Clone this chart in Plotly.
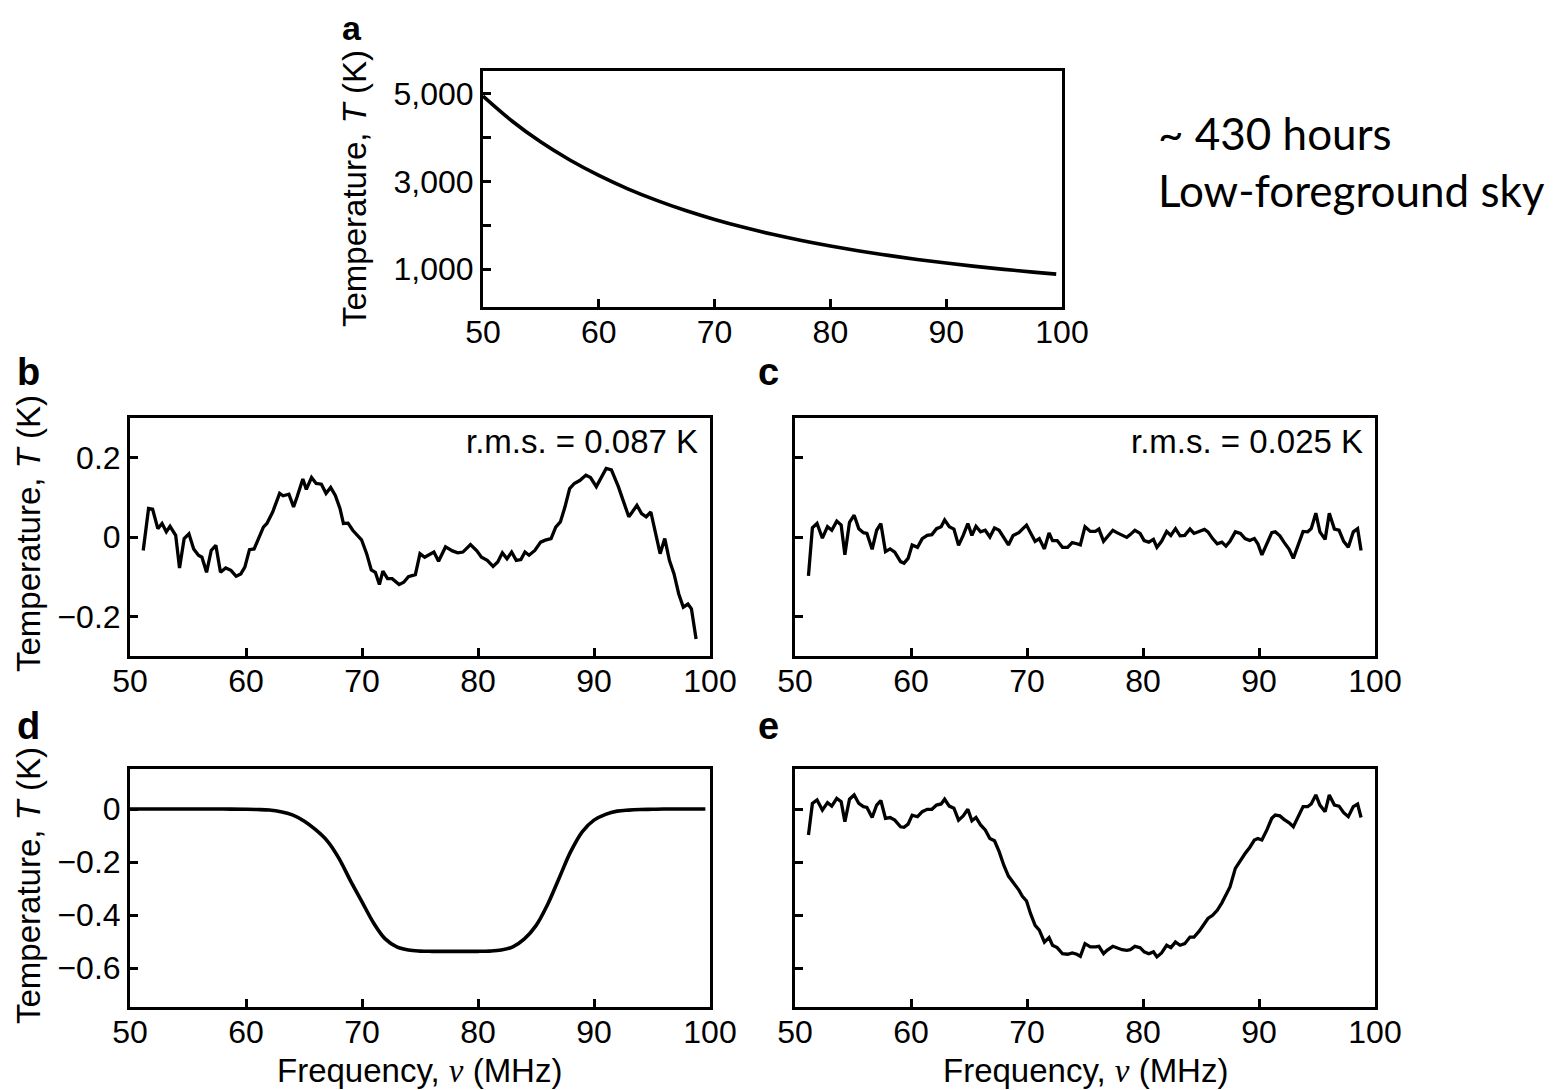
import plotly.graph_objects as go

# ---------------- data ----------------
# Panel a: sky temperature
a_freq = [50, 52.5, 55, 57.5, 60, 62.5, 65, 67.5, 70, 72.5, 75, 77.5, 80, 82.5, 85, 87.5, 90, 92.5, 95, 97.5, 99.5]
a_temp = [4950, 4382, 3900, 3490, 3138, 2833, 2569, 2337, 2134, 1955, 1796, 1655, 1529, 1416, 1314, 1222, 1139, 1063, 995, 932, 886]
a_yticks = [1000, 2000, 3000, 4000, 5000]
a_yticktext = ["1,000", "", "3,000", "", "5,000"]

# Panel b: residuals (r.m.s. = 0.087 K)
b_freq = [51.14, 51.6, 51.95, 52.4, 52.76, 53.13, 53.45, 53.94, 54.27, 54.67,
          55.08, 55.49, 55.9, 56.2, 56.6, 57.0, 57.4, 57.8, 58.25, 58.7,
          59.15, 59.55, 59.9, 60.3, 60.7, 61.1, 61.5, 61.8, 62.3, 62.9,
          63.2, 63.7, 64.1, 64.4, 64.9, 65.2, 65.65, 66.05, 66.5, 66.9,
          67.3, 67.7, 68.1, 68.4, 68.8, 69.2, 69.6, 69.96, 70.4, 70.8,
          71.15, 71.5, 71.8, 72.2, 72.6, 73.2, 73.6, 74.0, 74.6, 75.0,
          75.4, 75.9, 76.2, 76.6, 77.2, 77.8, 78.25, 78.7, 79.35, 79.9,
          80.3, 80.8, 81.3, 81.7, 82.1, 82.5, 82.9, 83.3, 83.7, 84.05,
          84.4, 84.9, 85.4, 85.8, 86.3, 86.7, 87.1, 87.5, 87.9, 88.3,
          88.8, 89.3, 89.7, 90.2, 90.65, 91.05, 91.5, 92.1, 92.5, 93.0,
          93.3, 93.7, 94.1, 94.5, 94.9, 95.3, 95.7, 96.1, 96.5, 96.9,
          97.3, 97.7, 98.1, 98.4, 98.8]
b_temp = [-0.034, 0.072, 0.07, 0.021, 0.034, 0.013, 0.027, 0.004, -0.078, -0.004,
          0.008, -0.03, -0.046, -0.051, -0.089, -0.034, -0.021, -0.089, -0.078, -0.084,
          -0.099, -0.093, -0.076, -0.032, -0.03, 0.0, 0.025, 0.034, 0.063, 0.11,
          0.104, 0.108, 0.076, 0.101, 0.146, 0.12, 0.15, 0.135, 0.133, 0.11,
          0.125, 0.105, 0.072, 0.034, 0.035, 0.017, 0.004, -0.007, -0.042, -0.083,
          -0.089, -0.12, -0.086, -0.105, -0.105, -0.12, -0.114, -0.1, -0.095, -0.042,
          -0.051, -0.044, -0.038, -0.061, -0.025, -0.035, -0.04, -0.038, -0.019, -0.035,
          -0.051, -0.059, -0.074, -0.063, -0.04, -0.055, -0.038, -0.059, -0.057, -0.038,
          -0.046, -0.034, -0.013, -0.008, -0.004, 0.025, 0.038, 0.076, 0.122, 0.135,
          0.143, 0.156, 0.15, 0.127, 0.15, 0.173, 0.169, 0.127, 0.093, 0.051,
          0.063, 0.08, 0.059, 0.051, 0.063, 0.008, -0.042, -0.004, -0.059, -0.093,
          -0.143, -0.177, -0.169, -0.181, -0.257]

# Panels c and e share the frequency sampling
ce_freq = [51.16, 51.5, 51.9, 52.36, 52.8, 53.17, 53.6, 53.98, 54.3, 54.7,
           55.1, 55.5, 55.9, 56.2, 56.65, 57.04, 57.4, 57.8, 58.2, 58.6,
           59.1, 59.4, 59.75, 60.1, 60.56, 60.97, 61.4, 61.8, 62.2, 62.6,
           62.9, 63.3, 63.7, 64.1, 64.5, 64.9, 65.25, 65.6, 66.0, 66.4,
           66.8, 67.2, 67.6, 68.0, 68.4, 68.8, 69.3, 69.6, 69.96, 70.3,
           70.7, 71.06, 71.5, 71.9, 72.2, 72.6, 73.06, 73.5, 73.9, 74.3,
           74.6, 75.0, 75.46, 75.9, 76.2, 76.6, 76.9, 77.4, 77.75, 78.2,
           78.6, 78.9, 79.3, 79.75, 80.1, 80.5, 80.9, 81.2, 81.6, 82.04,
           82.4, 82.8, 83.2, 83.6, 84.05, 84.4, 84.86, 85.3, 85.6, 86.0,
           86.4, 86.8, 87.15, 87.5, 87.96, 88.4, 88.8, 89.2, 89.6, 89.9,
           90.25, 90.7, 91.1, 91.4, 91.8, 92.15, 92.6, 92.96, 93.4, 93.8,
           94.2, 94.5, 94.9, 95.25, 95.7, 96.06, 96.5, 96.9, 97.3, 97.7,
           98.13, 98.5, 98.8]
# Panel c: residuals with absorption profile fitted (r.m.s. = 0.025 K)
c_temp = [-0.098, 0.023, 0.034, -0.003, 0.026, 0.017, 0.04, 0.03, -0.045, 0.037,
          0.055, 0.021, 0.011, 0.009, -0.031, 0.017, 0.034, -0.037, -0.03, -0.038,
          -0.062, -0.066, -0.054, -0.02, -0.026, -0.004, 0.004, 0.006, 0.021, 0.026,
          0.043, 0.026, 0.02, -0.021, 0.004, 0.034, 0.004, 0.027, 0.013, 0.017,
          0.0, 0.023, 0.017, 0.0, -0.02, 0.004, 0.011, 0.02, 0.03, 0.011,
          -0.011, -0.004, -0.03, 0.01, -0.009, -0.009, -0.026, -0.026, -0.014, -0.017,
          -0.02, 0.026, 0.014, 0.014, 0.02, -0.011, 0.0, 0.017, 0.011, 0.004,
          -0.001, 0.006, 0.017, 0.009, -0.009, -0.013, -0.006, -0.026, -0.011, 0.014,
          0.004, 0.021, 0.003, 0.004, 0.02, 0.009, 0.014, 0.019, 0.013, -0.004,
          -0.017, -0.013, -0.023, -0.011, 0.013, 0.009, -0.004, -0.009, -0.004, -0.017,
          -0.045, -0.017, 0.011, 0.013, 0.003, -0.013, -0.031, -0.054, -0.017, 0.014,
          0.013, 0.021, 0.06, 0.013, -0.006, 0.06, 0.02, 0.017, -0.011, -0.026,
          0.013, 0.021, -0.034]
# Panel e: absorption profile plus residuals
e_temp = [-0.098, 0.021, 0.034, -0.004, 0.024, 0.011, 0.04, 0.028, -0.048, 0.037,
          0.053, 0.021, 0.009, 0.006, -0.032, 0.015, 0.032, -0.035, -0.032, -0.042,
          -0.067, -0.069, -0.057, -0.023, -0.029, -0.01, -0.001, -0.001, 0.015, 0.019,
          0.037, 0.011, 0.003, -0.042, -0.026, -0.001, -0.044, -0.032, -0.06, -0.079,
          -0.111, -0.12, -0.161, -0.212, -0.253, -0.275, -0.306, -0.329, -0.347, -0.394,
          -0.439, -0.457, -0.502, -0.485, -0.514, -0.523, -0.546, -0.548, -0.543, -0.548,
          -0.556, -0.508, -0.52, -0.52, -0.518, -0.546, -0.533, -0.518, -0.523, -0.531,
          -0.533, -0.531, -0.518, -0.523, -0.539, -0.546, -0.539, -0.558, -0.543, -0.514,
          -0.523, -0.502, -0.514, -0.508, -0.483, -0.483, -0.46, -0.432, -0.413, -0.401,
          -0.382, -0.354, -0.325, -0.294, -0.224, -0.193, -0.168, -0.145, -0.117, -0.111,
          -0.117, -0.077, -0.035, -0.023, -0.026, -0.039, -0.052, -0.067, -0.026, 0.009,
          0.009, 0.019, 0.053, 0.015, -0.01, 0.053, 0.015, 0.011, -0.014, -0.029,
          0.009, 0.019, -0.032]

# Panel d: best-fit absorption profile
d_freq = [50, 52, 54, 56, 58, 60, 61, 62, 63, 64, 65, 66, 67, 68, 69, 70, 71, 72, 73, 74,
          75, 76, 77, 78, 79, 80, 81, 82, 83, 84, 85, 86, 87, 88, 89, 90, 91, 92, 93, 94,
          95, 96, 98, 99.6]
d_temp = [0, 0, 0, 0, 0, -0.001, -0.002, -0.004, -0.01, -0.022, -0.045, -0.078, -0.12, -0.185, -0.27, -0.35, -0.43, -0.49, -0.52, -0.532,
          -0.536, -0.537, -0.537, -0.537, -0.537, -0.537, -0.536, -0.532, -0.52, -0.49, -0.44, -0.36, -0.26, -0.16, -0.085, -0.042, -0.02, -0.008, -0.004, -0.002,
          -0.001, 0, 0, 0]

x_ticks = [50, 60, 70, 80, 90, 100]
res_yticks = [-0.2, 0, 0.2]
res_yticktext = ["\u22120.2", "0", "0.2"]
d_yticks = [-0.6, -0.4, -0.2, 0]
d_yticktext = ["\u22120.6", "\u22120.4", "\u22120.2", "0"]

assert len(b_freq) == len(b_temp)
assert len(ce_freq) == len(c_temp) == len(e_temp)
assert len(d_freq) == len(d_temp)
assert len(a_freq) == len(a_temp)

# ---------------- layout helpers ----------------
W, H = 1559, 1090
OFF = 8  # page body margin
FONT = "Liberation Sans, Arial, Helvetica, sans-serif"


def px(x):
    return (x - OFF) / W


def py(y):
    return 1 - (y - OFF) / H


def xdom(l, r):
    return [px(l), px(r)]


def ydom(t, b):
    return [py(b), py(t)]


def axis_style(**kw):
    d = dict(
        showline=True, mirror=True, linecolor="black", linewidth=3,
        ticks="inside", ticklen=8, tickwidth=2.5, tickcolor="black",
        showgrid=False, zeroline=False, automargin=False,
        tickfont=dict(family=FONT, size=32, color="black"),
    )
    d.update(kw)
    return d


def xaxis_style(**kw):
    return axis_style(ticklabelstandoff=-5, **kw)


fig = go.Figure()
line = dict(color="black", width=3.3)
fig.add_trace(go.Scatter(x=a_freq, y=a_temp, mode="lines", line=dict(color="black", width=3.6, shape="spline"),
                         xaxis="x", yaxis="y", showlegend=False))
fig.add_trace(go.Scatter(x=b_freq, y=b_temp, mode="lines", line=line, xaxis="x2", yaxis="y2", showlegend=False))
fig.add_trace(go.Scatter(x=ce_freq, y=c_temp, mode="lines", line=line, xaxis="x3", yaxis="y3", showlegend=False))
fig.add_trace(go.Scatter(x=d_freq, y=d_temp, mode="lines", line=dict(color="black", width=3.6, shape="spline"),
                         xaxis="x4", yaxis="y4", showlegend=False))
fig.add_trace(go.Scatter(x=ce_freq, y=e_temp, mode="lines", line=line, xaxis="x5", yaxis="y5", showlegend=False))

L1, R1 = 130, 710
L2, R2 = 795, 1375

fig.update_layout(
    width=W, height=H,
    margin=dict(l=0, r=0, t=0, b=0, pad=0, autoexpand=False),
    paper_bgcolor="white", plot_bgcolor="white",
    font=dict(family=FONT, color="black"),
    xaxis=xaxis_style(domain=xdom(483, 1062), range=[50, 100], tickvals=x_ticks, anchor="y"),
    yaxis=axis_style(domain=ydom(71, 307), range=[136, 5523], tickvals=a_yticks, ticktext=a_yticktext, anchor="x"),
    xaxis2=xaxis_style(domain=xdom(L1, R1), range=[50, 100], tickvals=x_ticks, anchor="y2"),
    yaxis2=axis_style(domain=ydom(418, 656), range=[-0.3, 0.3], tickvals=res_yticks, ticktext=res_yticktext, anchor="x2"),
    xaxis3=xaxis_style(domain=xdom(L2, R2), range=[50, 100], tickvals=x_ticks, anchor="y3"),
    yaxis3=axis_style(domain=ydom(418, 656), range=[-0.3, 0.3], tickvals=res_yticks, showticklabels=False, anchor="x3"),
    xaxis4=xaxis_style(domain=xdom(L1, R1), range=[50, 100], tickvals=x_ticks, anchor="y4"),
    yaxis4=axis_style(domain=ydom(769, 1007), range=[-0.747, 0.151], tickvals=d_yticks, ticktext=d_yticktext, anchor="x4"),
    xaxis5=xaxis_style(domain=xdom(L2, R2), range=[50, 100], tickvals=x_ticks, anchor="y5"),
    yaxis5=axis_style(domain=ydom(769, 1007), range=[-0.747, 0.151], tickvals=d_yticks, showticklabels=False, anchor="x5"),
)

ann = []


def add_text(x, y, text, size=33, xanchor="center", yanchor="middle", angle=0, family=FONT):
    ann.append(dict(x=px(x), y=py(y), xref="paper", yref="paper", text=text, showarrow=False,
                    xanchor=xanchor, yanchor=yanchor, textangle=angle, borderpad=0,
                    font=dict(family=family, size=size, color="black")))


ytitle = "Temperature, <i>T</i> (K)"
xtitle = "Frequency, <span style='font-family:Liberation Serif, Times New Roman, serif'><i>\u03bd</i></span> (MHz)"

# panel letters
add_text(352, 28, "<b>a</b>", size=34)
for x, y, t in [(28, 372, "b"), (768, 372, "c"), (28, 726, "d"), (768, 726, "e")]:
    add_text(x, y, "<b>%s</b>" % t, size=38)

# y-axis titles
add_text(355, 189, ytitle, angle=-90)
add_text(28, 534, ytitle, angle=-90)
add_text(28, 886, ytitle, angle=-90)

# x-axis titles
add_text(420, 1070, xtitle)
add_text(1085, 1070, xtitle)

# r.m.s. labels
add_text(699, 442, "r.m.s. = 0.087 K", xanchor="right")
add_text(1364, 442, "r.m.s. = 0.025 K", xanchor="right")

# side note
add_text(1157, 133, "~ 430 hours", size=44, xanchor="left", family="Lato, Open Sans, sans-serif")
add_text(1157, 190, "Low-foreground sky", size=44, xanchor="left", family="Lato, Open Sans, sans-serif")

fig.update_layout(annotations=ann)

fig.write_html("out.html")
